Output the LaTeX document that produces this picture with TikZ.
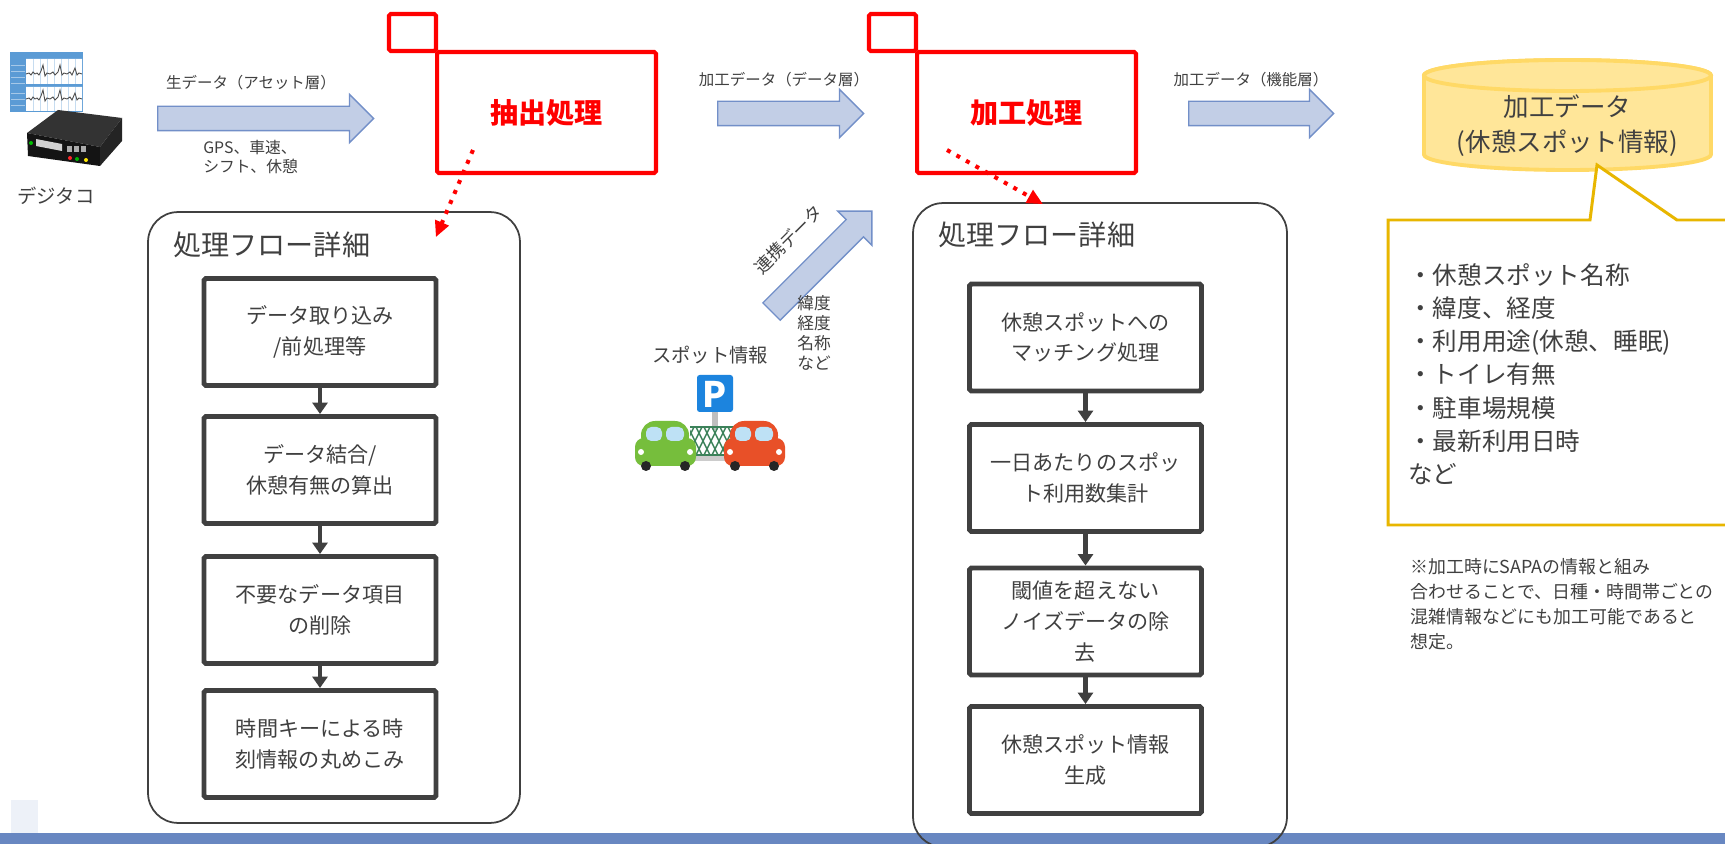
\documentclass[tikz,border=0pt]{standalone}
\usepackage{fontspec}
\setmainfont{Noto Sans CJK JP}
\usetikzlibrary{arrows.meta,shapes.arrows}
\definecolor{ink}{RGB}{64,64,64}
\definecolor{procred}{RGB}{255,0,0}
\definecolor{arrowfill}{RGB}{194,206,230}
\definecolor{arrowline}{RGB}{114,143,200}
\definecolor{dbfill}{RGB}{255,230,153}
\definecolor{dbline}{RGB}{255,217,102}
\definecolor{noteline}{RGB}{232,182,0}
\definecolor{barblue}{RGB}{104,135,193}
\definecolor{chartblue}{RGB}{91,155,213}
\definecolor{pblue}{RGB}{28,132,222}
\definecolor{cargreen}{RGB}{118,190,60}
\definecolor{carred}{RGB}{232,80,40}
\definecolor{glass}{RGB}{190,225,245}
\definecolor{fencegreen}{RGB}{60,130,90}

\begin{document}
\begin{tikzpicture}[x=0.02cm, y=-0.02cm,
    stepbox/.style={draw=ink, line width=2.8pt, rounded corners=1pt, minimum width=4.64cm, minimum height=2.14cm, align=center, text=ink, font=\fontsize{12}{17.5}\selectfont},
    panel/.style={draw=ink, line width=1pt, rounded corners=0.6cm},
    flow/.style={draw=ink, line width=2.3pt, -{Triangle[length=6.5pt,width=8.5pt]}},
    procbox/.style={draw=procred, line width=2.3pt, rounded corners=1pt, text=procred, font=\fontsize{16}{16}\selectfont\bfseries},
    hint/.style={draw=procred, line width=2.3pt, dash pattern=on 2.3pt off 3.9pt, -{Triangle[length=9pt,width=8pt]}},
    bigarrow/.style={single arrow, draw=arrowline, fill=arrowfill, line width=0.8pt, inner xsep=0pt, inner ysep=0.23cm, single arrow head extend=0.24cm, anchor=tail},
    lbl/.style={text=ink, inner sep=0pt, font=\fontsize{8.8}{11}\selectfont},
    title/.style={text=ink, inner sep=0pt, anchor=west, font=\fontsize{16}{16}\selectfont}]
  \clip (0,0) rectangle (1725,844); \fill[white] (0,0) rectangle (1725,844);
  \fill[barblue] (0,833) rectangle (1725,844); \fill[barblue!12] (11,800) rectangle (38,833);

  \fill[chartblue] (10,52) rectangle (83,112);
  \fill[white] (26,59) rectangle (82,84) (26,87) rectangle (82,111);
  \foreach \x in {33,40,...,80} \draw[chartblue!35, line width=0.3pt] (\x,59) -- (\x,84) (\x,87) -- (\x,111);
  \foreach \y in {65,71,77,83,93,99,105} \draw[chartblue!55!white, line width=0.4pt] (11,\y) -- (25,\y);
  \foreach \b in {74,99} \draw[gray!60!black, line width=0.5pt] plot coordinates {(26,\b) (29,\b-1) (31,\b+1) (33,\b-2) (35,\b) (37,\b-1) (39,\b+1) (41,\b-3) (43,\b-9) (45,\b+2) (47,\b-1) (50,\b) (53,\b-2) (55,\b+1) (58,\b-2) (60,\b-9) (62,\b+1) (64,\b-1) (67,\b) (70,\b-2) (72,\b+1) (75,\b-6) (77,\b+1) (79,\b-1) (82,\b)};
  \fill[black!80] (27,133) -- (58,110) -- (122,118) -- (100,147) -- cycle;
  \fill[black!92] (27,133) -- (100,147) -- (100,166) -- (28,156) -- cycle;
  \fill[black!86] (100,147) -- (122,118) -- (122,141) -- (100,166) -- cycle;
  \fill[gray!35] (36,139) -- (62,144) -- (62,151) -- (36,146) -- cycle;
  \foreach \x in {67,74,81} \fill[gray!65] (\x,146) rectangle ++(5,6);
  \fill[red!85] (70,158) circle[radius=2]; \fill[green!70!black] (77,159) circle[radius=2]; \fill[yellow!90!orange] (86,160) circle[radius=2];
  \fill[green!75!black] (31,143) circle[radius=2];
  \node[text=ink, font=\fontsize{11}{11}\selectfont] (dtc) at (56,196) {デジタコ};

  \node[bigarrow, minimum height=4.32cm] (a1) at (157,118.5) {};
  \node[lbl] (l1) at (251,83) {生データ（アセット層）};
  \node[lbl, anchor=west, align=left, font=\fontsize{9}{11.3}\selectfont] (d1) at (203,157) {GPS、車速、\\シフト、休憩};
  \node[procbox, minimum width=0.94cm, minimum height=0.74cm] (extag) at (412.5,32.5) {};
  \node[procbox, minimum width=4.38cm, minimum height=2.42cm] (ext) at (546.5,112.5) {抽出処理};
  \node[bigarrow, minimum height=2.92cm] (a2) at (717,113.5) {};
  \node[lbl] (l2) at (784,80) {加工データ（データ層）};
  \node[procbox, minimum width=0.94cm, minimum height=0.74cm] (prctag) at (892.5,32.5) {};
  \node[procbox, minimum width=4.38cm, minimum height=2.42cm] (prc) at (1026.5,112.5) {加工処理};
  \node[bigarrow, minimum height=2.9cm] (a3) at (1188,113.5) {};
  \node[lbl] (l3) at (1251,80) {加工データ（機能層）};

  \node[panel, minimum width=7.44cm, minimum height=12.22cm] (flow1) at (334,517.5) {};
  \node[title] (t1) at (173,245) {処理フロー詳細};
  \node[stepbox] (e1) at (320,332) {データ取り込み\\/前処理等};
  \node[stepbox] (e2) at (320,470) {データ結合/\\休憩有無の算出};
  \node[stepbox] (e3) at (320,610) {不要なデータ項目\\の削除};
  \node[stepbox] (e4) at (320,744) {時間キーによる時\\刻情報の丸めこみ};
  \draw[flow] (e1) -- (e2); \draw[flow] (e2) -- (e3); \draw[flow] (e3) -- (e4);

  \node[panel, minimum width=7.48cm, minimum height=12.88cm] (flow2) at (1100,525) {};
  \node[title] (t2) at (938,235) {処理フロー詳細};
  \node[stepbox] (p1) at (1085.5,337.5) {休憩スポットへの\\マッチング処理};
  \node[stepbox] (p2) at (1085.5,478) {一日あたりのスポッ\\ト利用数集計};
  \node[stepbox] (p3) at (1085.5,621.5) {閾値を超えない\\ノイズデータの除\\去};
  \node[stepbox] (p4) at (1085.5,760) {休憩スポット情報\\生成};
  \draw[flow] (p1) -- (p2); \draw[flow] (p2) -- (p3); \draw[flow] (p3) -- (p4);

  \draw[hint] ([shift={(-73.5,37.5)}]ext.center) -- ([shift={(-85,26)}]flow1.north east);
  \draw[hint] ([shift={(-79.5,37.5)}]prc.center) -- ([shift={(-57,2)}]flow2.north);

  \node[bigarrow, minimum height=2.84cm, rotate=45] (a4) at (771,312) {};
  \node[text=ink, rotate=45, inner sep=0pt, font=\fontsize{10}{10}\selectfont] (lnk) at (788.5,239.5) {連携データ};
  \node[lbl, anchor=west, align=left, font=\fontsize{9.5}{11.3}\selectfont] (attr) at (797,333) {緯度\\経度\\名称\\など};
  \node[text=ink, inner sep=0pt, font=\fontsize{11}{11}\selectfont] (spot) at (710,355) {スポット情報};
  \fill[gray!50] (712,410) rectangle (718,430);
  \begin{scope}
    \clip (690,427) rectangle (740,455);
    \foreach \x in {680,688,...,740} \draw[fencegreen, line width=0.8pt] (\x,427) -- (\x+14,455) (\x+14,427) -- (\x,455);
  \end{scope}
  \draw[fencegreen, line width=0.8pt] (690,427) -- (740,427) (690,455) -- (740,455);
  \fill[gray!40] (690,456) rectangle (740,461);
  \fill[pblue, rounded corners=1.5pt] (697,375) rectangle (733,412);
  \node[text=white, inner sep=0pt, font=\fontsize{20}{20}\selectfont\bfseries] (psign) at (715,394) {P};
  \foreach \cx/\col in {633/cargreen,722/carred} {
    \fill[\col, rounded corners=5pt] (\cx+2,438) rectangle (\cx+63,466);
    \fill[\col, rounded corners=8pt] (\cx+8,421) rectangle (\cx+56,450);
    \fill[glass, rounded corners=3pt] (\cx+13,427) rectangle (\cx+29,441) (\cx+33,427) rectangle (\cx+51,441);
    \fill[black!85] (\cx+13,466) circle[radius=5] (\cx+52,466) circle[radius=5];
    \fill[white] (\cx+8,452) circle[radius=3] (\cx+57,452) circle[radius=3];
  }

  \filldraw[draw=dbline, fill=dbfill, line width=2.2pt] (1424,75.5) -- (1424,154.5) arc[start angle=180, end angle=360, x radius=2.87cm, y radius=0.31cm] -- (1711,75.5) arc[start angle=0, end angle=180, x radius=2.87cm, y radius=0.31cm] -- cycle;
  \filldraw[draw=dbline, fill=dbfill, line width=2.2pt] (1567.5,75.5) ellipse[x radius=2.87cm, y radius=0.31cm];
  \node[text=ink, align=center, font=\fontsize{14.5}{19.8}\selectfont] (db) at (1567.5,125.5) {加工データ\\(休憩スポット情報)};
  \draw[noteline, line width=1.7pt, fill=white, line join=miter] (1388,220) -- (1590,220) -- (1597,165) -- (1677,220) -- (1740,220) -- (1740,525) -- (1388,525) -- cycle;
  \node[text=ink, anchor=west, align=left, inner sep=0pt, font=\fontsize{14}{18.9}\selectfont] (spec) at (1408,374) {・休憩スポット名称\\・緯度、経度\\・利用用途(休憩、睡眠)\\・トイレ有無\\・駐車場規模\\・最新利用日時\\など};
  \node[text=ink, anchor=west, align=left, inner sep=0pt, font=\fontsize{10.2}{14.2}\selectfont] (memo) at (1410,604.5) {※加工時にSAPAの情報と組み\\合わせることで、日種・時間帯ごとの\\混雑情報などにも加工可能であると\\想定。};
\end{tikzpicture}
\end{document}
